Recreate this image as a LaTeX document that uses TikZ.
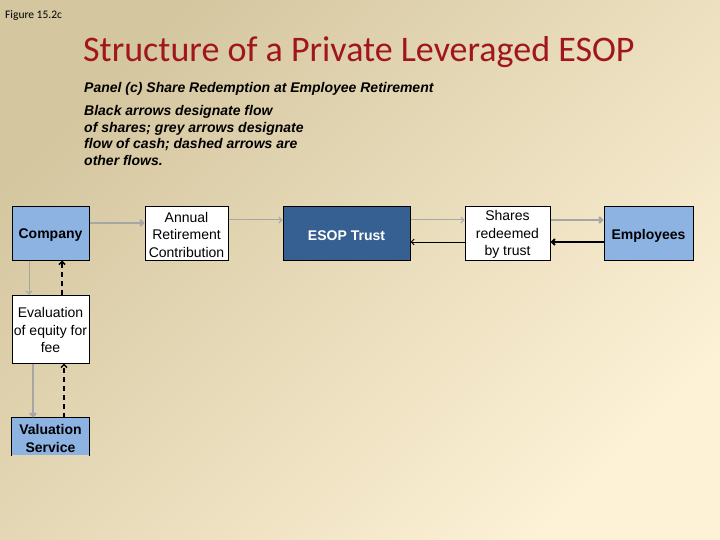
\documentclass[tikz,border=0pt]{standalone}
\usepackage{fontspec}
\usepackage{tikz}
\usetikzlibrary{arrows.meta}
\newfontfamily\arialfont{Liberation Sans}
\newfontfamily\calibrifont{Carlito}
\definecolor{bgdark}{HTML}{D4C69F}
\definecolor{bgmid}{HTML}{F3E9CE}
\definecolor{bglight}{HTML}{FDF1D6}
\definecolor{titlered}{HTML}{A0161C}
\definecolor{lightblue}{HTML}{8DB3E2}
\definecolor{darkblue}{HTML}{376092}
\definecolor{cashgrey}{HTML}{A6A6A6}

\begin{document}
\begin{tikzpicture}[x=1pt,y=-1pt,
    >={Straight Barb[length=3pt,width=6pt]},
    every node/.style={font=\arialfont\fontsize{14}{17.5}\selectfont,inner sep=1pt,align=center},
    boxtext/.style={label={[yshift=-1pt,align=center]center:#1}},
    partytext/.style={label={[yshift=-2pt,align=center,font=\arialfont\bfseries\fontsize{14}{17.5}\selectfont]center:#1}},
    party/.style={draw,line width=1pt,fill=lightblue},
    stepbox/.style={draw,line width=1pt,fill=white},
    cash/.style={->,cashgrey,line width=1pt},
    shares/.style={->,black,line width=1pt},
    other/.style={->,black,line width=1.5pt,dash pattern=on 5pt off 4pt}]

    % Background
    \useasboundingbox (0,0) rectangle (720,540);
    \shade[top color=bgdark,middle color=bgmid,bottom color=bglight,shading angle=45] (0,0) rectangle (720,540);

    % Headings
    \node[anchor=base west,inner sep=0,font=\calibrifont\fontsize{11.5}{14}\selectfont] (fig) at (5,19) {Figure 15.2c};
    \node[anchor=base west,inner sep=0,text=titlered,font=\calibrifont\fontsize{36}{40}\selectfont] (title) at (83,62) {Structure of a Private Leveraged ESOP};
    \node[anchor=base west,inner sep=0,font=\arialfont\bfseries\itshape\fontsize{14}{16.5}\selectfont] (panel) at (84,93) {Panel (c) Share Redemption at Employee Retirement};
    \node[anchor=north west,inner sep=0,align=left,font=\arialfont\bfseries\itshape\fontsize{14}{16.5}\selectfont] (legend) at (84,105.5)
      {Black arrows designate flow\\of shares; grey arrows designate\\flow of cash; dashed arrows are\\other flows.};

    % Top row
    \node[party,minimum width=77,minimum height=53,partytext=Company] (company) at (50.5,233.5) {};
    \node[stepbox,minimum width=83,minimum height=53,boxtext={Annual\\Retirement\\Contribution}] (contrib) at (186.5,233.5) {};
    \node[party,fill=darkblue,minimum width=127,minimum height=53,
          label={[yshift=-2pt,text=white,font=\arialfont\bfseries\fontsize{14}{17.5}\selectfont]center:ESOP Trust}] (trust) at (346.5,233.5) {};
    \node[stepbox,minimum width=85,minimum height=53,boxtext={Shares\\redeemed\\by trust}] (redeem) at (507.5,233.5) {};
    \node[party,minimum width=89,minimum height=53,partytext=Employees] (employees) at (648.5,233.5) {};

    % Left column
    \node[stepbox,minimum width=77,minimum height=68,boxtext={Evaluation\\of equity for\\fee}] (evaluation) at (50.5,329) {};
    \node[party,draw=none,minimum width=77,minimum height=37,partytext={Valuation\\Service}] (valuation) at (50.5,436.5) {};
    \draw[line width=1pt] (valuation.south west) |- (valuation.north east) -- (valuation.south east);

    % Cash flows
    \draw[cash,line width=2pt] ([yshift=10.5]company.east) -- ([yshift=10.5]contrib.west);
    \draw[cash] ([yshift=13.5]contrib.east) -- ([yshift=13.5]trust.west);
    \draw[cash] ([yshift=13.5]trust.east) -- ([yshift=13.5]redeem.west);
    \draw[cash,line width=2pt] ([yshift=13.5]redeem.east) -- ([yshift=13.5]employees.west);
    \draw[cash] ([xshift=-21.5]company.south) -- ([xshift=-21.5]evaluation.north);
    \draw[cash,line width=2pt] ([xshift=-17.5]evaluation.south) -- ([xshift=-17.5]valuation.north);

    % Share flows
    \draw[shares,line width=2pt] ([yshift=-8.5]employees.west) -- ([yshift=-8.5]redeem.east);
    \draw[shares] ([yshift=-8.5]redeem.west) -- ([yshift=-8.5]trust.east);

    % Other flows
    \draw[other] ([xshift=11.5]evaluation.north) -- ([xshift=11.5]company.south);
    \draw[other] ([xshift=13.5]valuation.north) -- ([xshift=13.5]evaluation.south);

\end{tikzpicture}
\end{document}
